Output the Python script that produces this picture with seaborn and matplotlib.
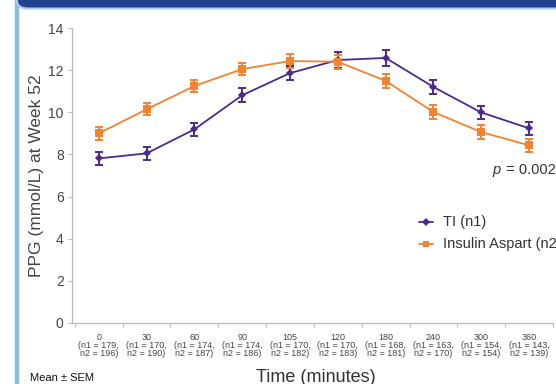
import matplotlib

matplotlib.use("Agg")

import matplotlib.pyplot as plt
import pandas as pd
import seaborn as sns
from matplotlib.patches import FancyBboxPatch, Rectangle

times = ["0", "30", "60", "90", "105", "120", "180", "240", "300", "360"]
n1 = [179, 170, 174, 174, 170, 170, 168, 163, 154, 143]
n2 = [196, 190, 187, 186, 182, 183, 181, 170, 154, 139]
ti_mean = [7.81, 8.05, 9.19, 10.81, 11.86, 12.48, 12.58, 11.2, 9.99, 9.24]
ti_sem = [0.30, 0.30, 0.32, 0.32, 0.35, 0.38, 0.36, 0.34, 0.32, 0.32]
asp_mean = [9.0, 10.14, 11.25, 12.05, 12.43, 12.4, 11.49, 10.01, 9.06, 8.43]
asp_sem = [0.30, 0.28, 0.30, 0.30, 0.32, 0.33, 0.34, 0.34, 0.32, 0.32]

PURPLE = "#4b2a8f"
ORANGE = "#f5822f"
TEXT = "#444444"

sns.set_theme(style="white")
plt.rcParams["font.family"] = ["Liberation Sans", "DejaVu Sans"]

df = pd.concat(
    [
        pd.DataFrame({"pos": range(len(times)), "ppg": ti_mean, "sem": ti_sem, "arm": "TI (n1)"}),
        pd.DataFrame({"pos": range(len(times)), "ppg": asp_mean, "sem": asp_sem, "arm": "Insulin Aspart (n2)"}),
    ],
    ignore_index=True,
)
palette = {"TI (n1)": PURPLE, "Insulin Aspart (n2)": ORANGE}
markers = {"TI (n1)": "D", "Insulin Aspart (n2)": "s"}
msizes = {"TI (n1)": 4, "Insulin Aspart (n2)": 5.5}

fig = plt.figure(figsize=(5.56, 3.84), dpi=100)
ax = fig.add_axes([72 / 556, 1 - 323 / 384, (553 - 72) / 556, (323 - 28) / 384])

# slide frame
fig.patches.append(Rectangle((15 / 556, 0), 2.5 / 556, 1, transform=fig.transFigure,
                             color="#8dbbe6", zorder=0))
fig.patches.append(FancyBboxPatch((17 / 556, 1 - 8.5 / 384), 600 / 556, 20 / 384,
                                  boxstyle="round,pad=0,rounding_size=0.02",
                                  transform=fig.transFigure, facecolor="#224290",
                                  edgecolor="#a9cdee", linewidth=1.5, zorder=0))

for arm, color in palette.items():
    d = df[df["arm"] == arm]
    ax.errorbar(d["pos"], d["ppg"], yerr=d["sem"], fmt="none", ecolor=color,
                elinewidth=1.4, capsize=3, capthick=1.4, zorder=2)

n_before = len(ax.lines)
sns.lineplot(data=df, x="pos", y="ppg", hue="arm", style="arm", palette=palette,
             markers=markers, dashes=False, linewidth=1.3, markeredgewidth=0,
             ax=ax, legend=False, zorder=3)
for line, arm in zip(ax.lines[n_before:], palette):
    line.set_markersize(msizes[arm])

ax.set_xlim(-0.56, len(times) - 0.5)
ax.set_ylim(0, 14)
ax.set_yticks(range(0, 15, 2))
ax.tick_params(axis="y", labelsize=10, labelcolor=TEXT, length=3, width=0.8,
               color="#bbbbbb", pad=3, left=True)
ax.set_xticks(range(len(times)))
ax.set_xticklabels([f"{t}\n(n1 = {a},\nn2 = {b})" for t, a, b in zip(times, n1, n2)],
                   fontsize=6.5, color=TEXT, linespacing=0.85)
ax.tick_params(axis="x", length=0, pad=7)
ax.set_xticks([i - 0.5 for i in range(len(times) + 1)], minor=True)
ax.tick_params(axis="x", which="minor", bottom=True, length=3, width=0.8, color="#bbbbbb")

for side in ["top", "right"]:
    ax.spines[side].set_visible(False)
for side in ["left", "bottom"]:
    ax.spines[side].set_color("#bbbbbb")
    ax.spines[side].set_linewidth(0.9)

ax.set_xlabel("")
ax.set_ylabel("PPG (mmol/L) at Week 52", fontsize=12.5, color=TEXT)
ax.yaxis.set_label_coords(-(72 - 44) / 481, 0.5)
fig.text(316 / 556, 1 - 378 / 384, "Time (minutes)", fontsize=13, color="#333333",
         ha="center", va="center")
fig.text(30 / 556, 1 - 378 / 384, "Mean ± SEM", fontsize=8, color="#111111",
         ha="left", va="center")
fig.text(492 / 556, 1 - 170 / 384, "p", fontsize=10.5, color="#333333", style="italic",
         ha="left", va="center")
fig.text(502 / 556, 1 - 170 / 384, " = 0.002", fontsize=10.5, color="#333333",
         ha="left", va="center")

# legend drawn by hand so it can run off the right edge like the slide
for i, arm in enumerate(palette):
    y = 1 - (222 + 22 * i) / 384
    fig.lines.append(plt.Line2D([419 / 556, 433 / 556], [y, y], transform=fig.transFigure,
                                color=palette[arm], linewidth=1.3))
    fig.lines.append(plt.Line2D([426 / 556], [y], transform=fig.transFigure,
                                color=palette[arm], marker=markers[arm], linestyle="none",
                                markersize=4 if i == 0 else 5, markeredgewidth=0))
    fig.text(443 / 556, y, arm, fontsize=10.5, color="#333333", ha="left", va="center")

fig.savefig("out.png", dpi=100)
